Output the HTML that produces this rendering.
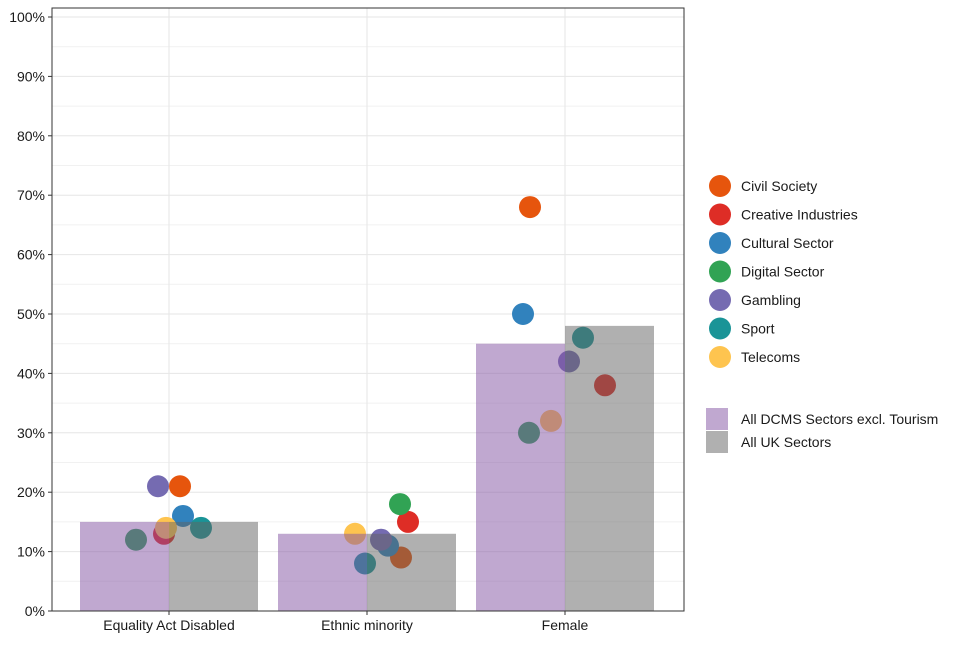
<!DOCTYPE html>
<html><head><meta charset="utf-8"><style>
body{margin:0;background:#fff;font-family:"Liberation Sans",Arial,sans-serif;}
svg text{font-family:"Liberation Sans",Arial,sans-serif;fill:#1a1a1a;}
</style></head><body>
<svg id="chart" width="960" height="640"></svg>
<script>
const categories=["Equality Act Disabled","Ethnic minority","Female"];
const dcmsValues=[15,13,45];
const ukValues=[15,13,48];
const sectors=["Civil Society","Creative Industries","Cultural Sector","Digital Sector","Gambling","Sport","Telecoms"];
const sectorColors=["#e6550d","#de2d26","#3182bd","#31a354","#756bb1","#1a9497","#fec44f"];
const sectorValues={
 "Civil Society":[21,9,68],
 "Creative Industries":[13,15,38],
 "Cultural Sector":[16,11,50],
 "Digital Sector":[12,18,30],
 "Gambling":[21,12,42],
 "Sport":[14,8,46],
 "Telecoms":[14,13,32]
};
const jitter={
 "Civil Society":[11,34,-35],
 "Creative Industries":[-5,41,40],
 "Cultural Sector":[14,21,-42],
 "Digital Sector":[-33,33,-36],
 "Gambling":[-11,14,4],
 "Sport":[32,-2,18],
 "Telecoms":[-3,-12,-14]
};
const yTicks=[0,10,20,30,40,50,60,70,80,90,100];
const NS="http://www.w3.org/2000/svg";
const svg=document.getElementById('chart');
const L=52,R=684,T=8,B=611;
const y=v=>611-v*5.94;
const x=i=>169+i*198;
function mk(t,a,p){const e=document.createElementNS(NS,t);for(const k in a)e.setAttribute(k,a[k]);(p||svg).appendChild(e);return e;}
// minor grid
for(let v=5;v<100;v+=10){const l=mk('line',{x1:L,x2:R,y1:y(v),y2:y(v),stroke:'#f1f1f1','stroke-width':1});

}
yTicks.forEach(v=>{const l=mk('line',{x1:L,x2:R,y1:y(v),y2:y(v),stroke:'#e6e6e6','stroke-width':1});


const t=mk('text',{x:45,y:y(v)+5,'text-anchor':'end','font-size':14});t.textContent=v+'%';


mk('line',{x1:48,x2:L,y1:y(v),y2:y(v),stroke:'#333'});});
categories.forEach((c,i)=>{const l=mk('line',{x1:x(i),x2:x(i),y1:T,y2:B,stroke:'#e6e6e6'});


const t=mk('text',{x:x(i),y:630,'text-anchor':'middle','font-size':14});t.textContent=c;


mk('line',{x1:x(i),x2:x(i),y1:B,y2:B+4,stroke:'#333'});});
// points
sectors.forEach((s,si)=>{sectorValues[s].forEach((v,i)=>{
 const c=mk('circle',{cx:x(i)+jitter[s][i],cy:y(v),r:11,fill:sectorColors[si]});
 
 
});});
// bars
categories.forEach((c,i)=>{
 const a=mk('rect',{x:x(i)-89,y:y(dcmsValues[i]),width:89,height:B-y(dcmsValues[i]),fill:'#8151a1','fill-opacity':0.5});
 
 
 const b=mk('rect',{x:x(i),y:y(ukValues[i]),width:89,height:B-y(ukValues[i]),fill:'#616161','fill-opacity':0.5});
 
 
});
const f=mk('rect',{x:L,y:T,width:R-L,height:B-T,fill:'none',stroke:'#333','stroke-width':1});


// legend
sectors.forEach((s,i)=>{const cy=186+i*28.5;
 const c=mk('circle',{cx:720,cy:cy,r:11,fill:sectorColors[i]});
 
 
 const t=mk('text',{x:741,y:cy+5,'font-size':14});t.textContent=s;
 
 });
[["All DCMS Sectors excl. Tourism","#c0a8d0"],["All UK Sectors","#b0b0b0"]].forEach((d,i)=>{
 const cy=419+i*23;
 const r=mk('rect',{x:706,y:cy-11,width:22,height:22,fill:d[1]});
 
 
 const t=mk('text',{x:741,y:cy+5,'font-size':14});t.textContent=d[0];
 
 });
</script>
</body></html>
